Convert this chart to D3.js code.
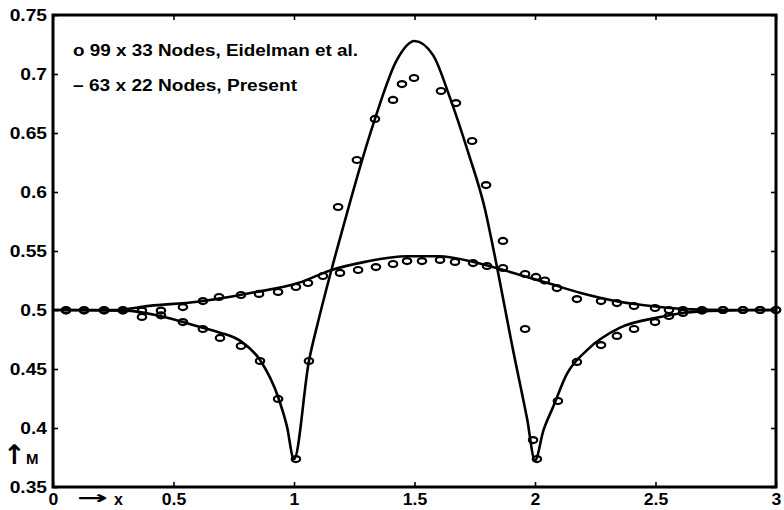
<!DOCTYPE html>
<html>
<head>
<meta charset="utf-8">
<script src="https://cdnjs.cloudflare.com/ajax/libs/d3/7.8.5/d3.min.js"></script>
<style>
  body { margin: 0; background: #fff; }
  svg text { font-family: "Liberation Sans", Arial, sans-serif; font-weight: bold; fill: #000; }
</style>
</head>
<body>
<svg id="chart_svg" width="784" height="510"></svg>
<script>
// tick values
var xTicks = [0, 0.5, 1, 1.5, 2, 2.5, 3];
var xTickLabels = ["0", "0.5", "1", "1.5", "2", "2.5", "3"];
var yTicks = [0.35, 0.4, 0.45, 0.5, 0.55, 0.6, 0.65, 0.7, 0.75];
var yTickLabels = ["0.35", "0.4", "0.45", "0.5", "0.55", "0.6", "0.65", "0.7", "0.75"];

var legendLabels = ["o 99 x 33 Nodes, Eidelman et al.", "\u2013 63 x 22 Nodes, Present"];
var legendWidths = [285, 224];

// 99 x 33 nodes, Eidelman et al. (circles) - big oscillation
var eidelmanBig = [
    [0.054, 0.5], [0.129, 0.5], [0.212, 0.5], [0.290, 0.5], [0.369, 0.4941], [0.448, 0.4955],
    [0.539, 0.4898], [0.622, 0.4839], [0.693, 0.4763], [0.78, 0.4695], [0.859, 0.4568],
    [0.934, 0.4246], [1.008, 0.3737], [1.062, 0.4568], [1.183, 0.5873], [1.261, 0.6271],
    [1.336, 0.6619], [1.411, 0.678], [1.448, 0.6915], [1.498, 0.6966], [1.61, 0.6856],
    [1.672, 0.6754], [1.739, 0.6432], [1.797, 0.6059], [1.867, 0.5585], [1.959, 0.4839],
    [1.992, 0.3898], [2.008, 0.3737], [2.095, 0.4229], [2.174, 0.456], [2.274, 0.4703],
    [2.34, 0.478], [2.411, 0.4839], [2.498, 0.4898], [2.556, 0.4949], [2.614, 0.4975],
    [2.693, 0.4995], [2.78, 0.5], [2.863, 0.5], [2.934, 0.5], [3.0, 0.5]
];

// 99 x 33 nodes, Eidelman et al. (circles) - small bump
var eidelmanSmall = [
    [0.054, 0.4995], [0.129, 0.4995], [0.212, 0.4995], [0.290, 0.4995], [0.369, 0.4995],
    [0.448, 0.4995], [0.539, 0.5025], [0.622, 0.5076], [0.689, 0.511], [0.78, 0.5127],
    [0.855, 0.5136], [0.934, 0.5153], [1.008, 0.5195], [1.058, 0.5229], [1.120, 0.5288],
    [1.191, 0.5314], [1.266, 0.5339], [1.340, 0.5364], [1.411, 0.539], [1.469, 0.5415],
    [1.531, 0.5415], [1.606, 0.5424], [1.668, 0.5407], [1.743, 0.5398], [1.801, 0.5373],
    [1.867, 0.5356], [1.959, 0.5305], [2.004, 0.528], [2.041, 0.525], [2.091, 0.5186],
    [2.174, 0.5093], [2.274, 0.5076], [2.340, 0.5059], [2.411, 0.5034], [2.498, 0.5017],
    [2.556, 0.5], [2.614, 0.5], [2.693, 0.5], [2.780, 0.5], [2.863, 0.5], [2.934, 0.5], [3.0, 0.5]
];

// 63 x 22 nodes, Present (solid lines)
var presentBig = [
    [0, 0.5], [0.3, 0.4995], [0.444, 0.495], [0.61, 0.4856], [0.69, 0.481], [0.784, 0.4729],
    [0.859, 0.4576], [0.934, 0.4263], [0.97, 0.402], [1.0, 0.3735], [1.062, 0.4568], [1.1, 0.49],
    [1.158, 0.536], [1.228, 0.588], [1.261, 0.612], [1.336, 0.662], [1.427, 0.712], [1.5, 0.728],
    [1.577, 0.716], [1.647, 0.68], [1.722, 0.634], [1.793, 0.585], [1.827, 0.552], [1.909, 0.466],
    [1.967, 0.408], [2.0, 0.3725], [2.035, 0.398], [2.075, 0.4178], [2.133, 0.446], [2.216, 0.466],
    [2.353, 0.485], [2.519, 0.494], [2.614, 0.4975], [2.77, 0.4995], [3.0, 0.5]
];

var presentSmall = [
    [0, 0.5], [0.25, 0.5], [0.4, 0.5035], [0.6, 0.507], [0.82, 0.5144], [1.02, 0.523],
    [1.15, 0.5335], [1.3, 0.541], [1.47, 0.5455], [1.6, 0.5455], [1.75, 0.5405], [1.9, 0.532],
    [2.05, 0.523], [2.19, 0.5144], [2.35, 0.507], [2.5, 0.503], [2.65, 0.5005], [2.8, 0.5], [3.0, 0.5]
];

function DrawChart() {
    var self = this;
    self.svg = d3.select("#chart_svg");
    self.left = 53;
    self.right = 776;
    self.top = 15;
    self.bottom = 487;
    self.init();
}

DrawChart.prototype.init = function () {
    var self = this;

    self.scaleX = d3.scaleLinear()
        .domain([0, 3])
        .range([self.left, self.right]);

    self.scaleY = d3.scaleLinear()
        .domain([0.35, 0.75])
        .range([self.bottom, self.top]);
};

// scanned font is wider than Arial, stretch it a bit
function widen(sel, k) {
    sel.each(function () {
        var w = this.getComputedTextLength();
        d3.select(this)
            .attr("textLength", w * k)
            .attr("lengthAdjust", "spacingAndGlyphs");
    });
}

DrawChart.prototype.drawAxes = function () {
    var self = this;
    var tick = 5;

    var bottomAxis = d3.axisBottom(self.scaleX).tickValues(xTicks)
        .tickSizeInner(-tick).tickSizeOuter(0)
        .tickFormat(function (d, i) { return xTickLabels[i]; });
    var topAxis = d3.axisTop(self.scaleX).tickValues(xTicks)
        .tickSizeInner(-tick).tickSizeOuter(0).tickFormat("");
    var leftAxis = d3.axisLeft(self.scaleY).tickValues(yTicks)
        .tickSizeInner(-tick).tickSizeOuter(0)
        .tickFormat(function (d, i) { return yTickLabels[i]; });
    var rightAxis = d3.axisRight(self.scaleY).tickValues(yTicks)
        .tickSizeInner(-tick).tickSizeOuter(0).tickFormat("");

    var gb = self.svg.append("g").attr("transform", "translate(0," + self.bottom + ")").call(bottomAxis);
    var gt = self.svg.append("g").attr("transform", "translate(0," + self.top + ")").call(topAxis);
    var gl = self.svg.append("g").attr("transform", "translate(" + self.left + ",0)").call(leftAxis);
    var gr = self.svg.append("g").attr("transform", "translate(" + self.right + ",0)").call(rightAxis);

    [gb, gt, gl, gr].forEach(function (g) {
        g.select(".domain").remove();
        g.selectAll(".tick line").attr("stroke", "#000").attr("stroke-width", 1.6);
        g.selectAll(".tick text")
            .style("font-size", "16px")
            .style("font-family", "'Liberation Sans', Arial, sans-serif")
            .style("font-weight", "bold");
    });

    gb.selectAll(".tick text")
        .attr("y", 7)
        .attr("dy", "0.71em");
    widen(gb.selectAll(".tick text"), 1.1);

    gl.selectAll(".tick text")
        .attr("x", -6);
    widen(gl.selectAll(".tick text"), 1.2);

    // box
    self.svg.append("rect")
        .attr("x", self.left)
        .attr("y", self.top)
        .attr("width", self.right - self.left)
        .attr("height", self.bottom - self.top)
        .attr("fill", "none")
        .attr("stroke", "#000")
        .attr("stroke-width", 3);

    // axis names
    self.svg.append("text")
        .attr("x", 77).attr("y", 504)
        .attr("textLength", 31).attr("lengthAdjust", "spacingAndGlyphs")
        .style("font-family", "'DejaVu Sans', sans-serif")
        .style("font-size", "18px")
        .text("\u2192");
    self.svg.append("text")
        .attr("x", 114).attr("y", 505)
        .style("font-size", "16px")
        .text("x");

    self.svg.append("text")
        .attr("x", 3).attr("y", 464)
        .style("font-family", "'DejaVu Sans', sans-serif")
        .style("font-size", "27px")
        .text("\u2191");
    self.svg.append("text")
        .attr("x", 26).attr("y", 464)
        .style("font-size", "15px")
        .text("M");
};

DrawChart.prototype.drawLines = function () {
    var self = this;

    var line = d3.line()
        .x(function (d) { return self.scaleX(d[0]); })
        .y(function (d) { return self.scaleY(d[1]); })
        .curve(d3.curveMonotoneX);

    self.svg.selectAll(".present")
        .data([presentBig, presentSmall])
        .enter().append("path")
        .classed("present", true)
        .attr("d", line)
        .attr("fill", "none")
        .attr("stroke", "#000")
        .attr("stroke-width", 2.6);
};

DrawChart.prototype.drawMarkers = function () {
    var self = this;

    var pts = eidelmanBig.concat(eidelmanSmall);

    self.svg.selectAll(".eid")
        .data(pts)
        .enter().append("ellipse")
        .classed("eid", true)
        .attr("cx", function (d) { return self.scaleX(d[0]); })
        .attr("cy", function (d) { return self.scaleY(d[1]); })
        .attr("rx", 4.2)
        .attr("ry", 3)
        .attr("fill", "none")
        .attr("stroke", "#000")
        .attr("stroke-width", 2.2);
};

DrawChart.prototype.drawLegend = function () {
    var self = this;

    self.svg.selectAll(".legend")
        .data(legendLabels)
        .enter().append("text")
        .classed("legend", true)
        .attr("x", 73)
        .attr("y", function (d, i) { return 56 + i * 35; })
        .attr("textLength", function (d, i) { return legendWidths[i]; })
        .attr("lengthAdjust", "spacingAndGlyphs")
        .style("font-size", "16px")
        .text(function (d) { return d; });
};

var chart = new DrawChart();
chart.drawLines();
chart.drawMarkers();
chart.drawAxes();
chart.drawLegend();
</script>
</body>
</html>
